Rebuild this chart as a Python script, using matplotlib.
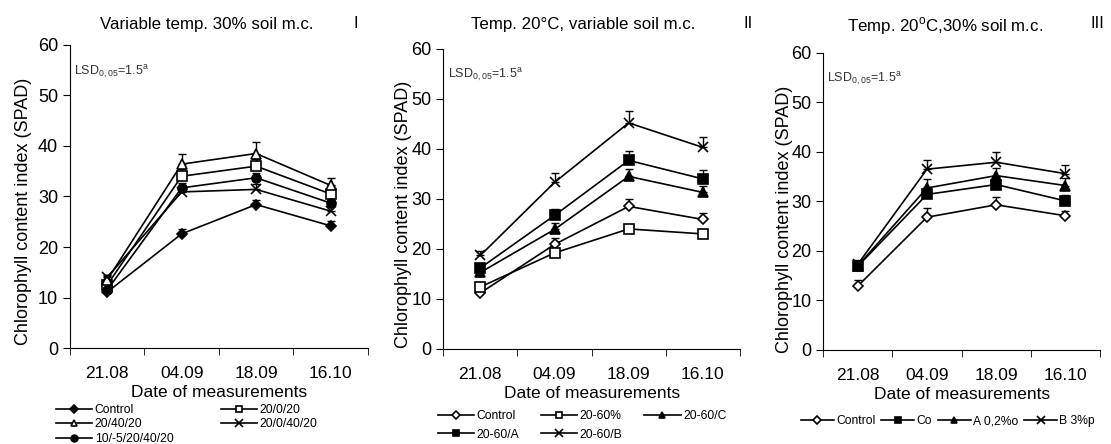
import numpy as np
import matplotlib
matplotlib.use('Agg')
import matplotlib.pyplot as plt

plt.rcParams['font.family'] = ['Liberation Sans', 'DejaVu Sans']
plt.rcParams['mathtext.fontset'] = 'custom'
plt.rcParams['mathtext.rm'] = 'Liberation Sans'

# data
dates = ['21.08', '04.09', '18.09', '16.10']

labels_1 = ['Control', '20/0/20', '20/40/20', '20/0/40/20', '10/-5/20/40/20']
vals_1 = [
    [11.1, 22.6, 28.4, 24.2],
    [12.5, 34.0, 36.0, 30.5],
    [13.5, 36.4, 38.5, 32.2],
    [14.0, 30.9, 31.4, 27.1],
    [11.5, 31.7, 33.7, 28.7],
]
err_1 = [
    [0.5, 1.0, 1.0, 1.0],
    [0.8, 1.5, 1.5, 1.5],
    [0.8, 2.0, 2.3, 1.5],
    [0.5, 1.0, 1.0, 1.0],
    [0.5, 1.0, 1.0, 1.0],
]

labels_2 = ['Control', '20-60%', '20-60/C', '20-60/A', '20-60/B']
vals_2 = [
    [11.2, 20.9, 28.5, 25.9],
    [12.4, 19.2, 24.0, 23.0],
    [15.3, 23.9, 34.5, 31.3],
    [16.2, 26.7, 37.7, 34.0],
    [18.7, 33.3, 45.2, 40.3],
]
err_2 = [
    [0.5, 1.2, 1.5, 1.3],
    [0.5, 0.8, 0.8, 0.8],
    [0.8, 1.2, 1.5, 1.2],
    [0.8, 1.2, 1.8, 1.8],
    [0.8, 1.8, 2.3, 2.0],
]

labels_3 = ['Control', 'Co', 'A 0,2%o', 'B 3%p']
vals_3 = [
    [12.9, 26.8, 29.3, 27.1],
    [16.9, 31.4, 33.4, 30.1],
    [17.0, 32.7, 35.2, 33.2],
    [17.3, 36.5, 37.9, 35.6],
]
err_3 = [
    [1.3, 1.8, 1.5, 1.0],
    [0.8, 1.5, 1.5, 1.2],
    [0.8, 1.8, 1.5, 1.5],
    [0.8, 1.8, 2.0, 1.8],
]

# marker styles (marker, filled?)
styles_1 = [('D', True), ('s', False), ('^', False), ('x', True), ('o', True)]
styles_2 = [('D', False), ('s', False), ('^', True), ('s', True), ('x', True)]
styles_3 = [('D', False), ('s', True), ('^', True), ('x', True)]

titles = ['Variable temp. 30% soil m.c.',
          'Temp. 20°C, variable soil m.c.',
          r'Temp. 20$^{\mathregular{o}}$C,30% soil m.c.']
roman = ['I', 'II', 'III']

fig = plt.figure(figsize=(11.11, 4.44), dpi=100)

positions = [
    [0.063, 0.216, 0.268, 0.683],
    [0.399, 0.214, 0.267, 0.676],
    [0.741, 0.212, 0.249, 0.669],
]
ylabel_xy = [(-0.128, 0.45), (-0.105, 0.45), (-0.111, 0.44)]


def draw_panel(ax, labels, vals, errs, styles, lxy):
    x = np.arange(len(dates))
    handles = []
    for lab, v, e, (m, filled) in zip(labels, vals, errs, styles):
        v = np.array(v)
        e = np.array(e)
        ax.errorbar(x, v, yerr=[np.zeros_like(e), e], fmt='none', ecolor='black',
                    elinewidth=1, capsize=3, capthick=1, zorder=2)
        ms = 6.5 if m != 'x' else 7.5
        if m == 'D':
            ms = 5.5
        h, = ax.plot(x, v, color='black', lw=1.2, marker=m, markersize=ms,
                     markerfacecolor='black' if filled else 'white',
                     markeredgecolor='black', markeredgewidth=1.2,
                     label=lab, zorder=3)
        handles.append(h)
    ax.set_xlim(-0.5, len(dates) - 0.5)
    ax.set_ylim(0, 60)
    ax.set_yticks(range(0, 61, 10))
    ax.set_xticks(x)
    ax.set_xticklabels(dates)
    ax.set_xticks(np.arange(-0.5, len(dates)), minor=True)
    ax.tick_params(axis='x', which='major', length=0, labelsize=12.5, pad=13)
    ax.tick_params(axis='x', which='minor', length=5, direction='out')
    ax.tick_params(axis='y', labelsize=13, length=5, direction='out')
    for s in ['top', 'right']:
        ax.spines[s].set_visible(False)
    ax.set_ylabel('Chlorophyll content index (SPAD)', fontsize=13)
    ax.yaxis.set_label_coords(*lxy)
    ax.set_xlabel('Date of measurements', fontsize=12.5, labelpad=3)
    ax.text(0.015, 0.91, r'LSD$_{\mathregular{0,05}}$=1.5$^{\mathregular{a}}$',
            transform=ax.transAxes, fontsize=9, color='#333333', va='center')
    return handles


all_labels = [labels_1, labels_2, labels_3]
all_vals = [vals_1, vals_2, vals_3]
all_errs = [err_1, err_2, err_3]
all_styles = [styles_1, styles_2, styles_3]

axes = []
hs = []
for i in range(3):
    ax = fig.add_axes(positions[i])
    h = draw_panel(ax, all_labels[i], all_vals[i], all_errs[i], all_styles[i], ylabel_xy[i])
    axes.append(ax)
    hs.append(h)

# titles
fig.text(207 / 1111, 1 - 25 / 444, titles[0], ha='center', va='center', fontsize=12.2)
fig.text(583 / 1111, 1 - 25 / 444, titles[1], ha='center', va='center', fontsize=12.2)
fig.text(945 / 1111, 1 - 26 / 444, titles[2], ha='center', va='center', fontsize=12.2)
fig.text(356 / 1111, 1 - 24 / 444, roman[0], ha='center', va='center', fontsize=12)
fig.text(748 / 1111, 1 - 24 / 444, roman[1], ha='center', va='center', fontsize=12)
fig.text(1097 / 1111, 1 - 24 / 444, roman[2], ha='center', va='center', fontsize=12)

leg_kw = dict(frameon=False, fontsize=8.7, handletextpad=0.2, markerscale=0.75,
              borderaxespad=0, borderpad=0)

# legend I (row-major order)
h1 = hs[0]
fig.legend([h1[0], h1[2], h1[4], h1[1], h1[3]],
           [labels_1[0], labels_1[2], labels_1[4], labels_1[1], labels_1[3]],
           ncol=2, loc='upper left', bbox_to_anchor=(56 / 1111, 1 - 404 / 444),
           columnspacing=3.9, handlelength=3.0, labelspacing=0.2, **leg_kw)

# legend II
h2 = hs[1]
fig.legend([h2[0], h2[3], h2[1], h2[4], h2[2]],
           [labels_2[0], labels_2[3], labels_2[1], labels_2[4], labels_2[2]],
           ncol=3, loc='upper left', bbox_to_anchor=(438 / 1111, 1 - 410 / 444),
           columnspacing=1.8, handlelength=3.0, labelspacing=0.55, **leg_kw)

# legend III
fig.legend(hs[2], labels_3, ncol=4, loc='upper left',
           bbox_to_anchor=(801 / 1111, 1 - 415 / 444), columnspacing=0.5,
           handlelength=2.7, labelspacing=0.2, **leg_kw)

fig.savefig('out.png', dpi=100)
